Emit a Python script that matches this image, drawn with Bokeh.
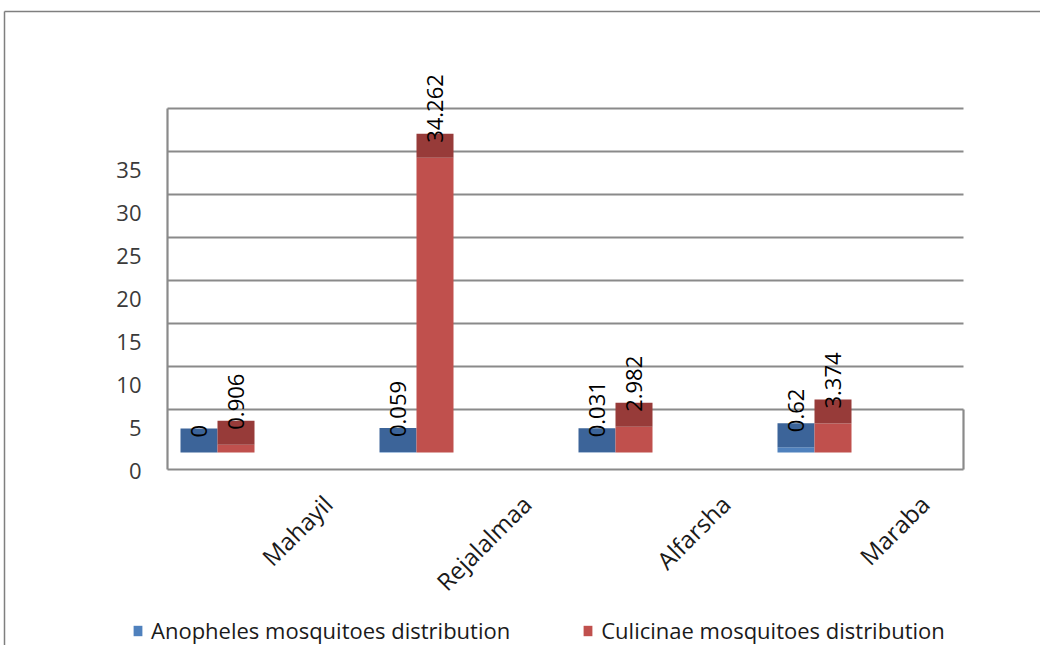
import numpy as np
from bokeh.plotting import figure
from bokeh.models import Range1d, LinearAxis, FixedTicker, Legend, LegendItem
from bokeh.core.properties import value
from bokeh.embed import file_html
from bokeh.resources import INLINE

# ---------------- data ----------------
categories = ["Mahayil", "Rejalalmaa", "Alfarsha", "Maraba"]
anopheles = [0, 0.059, 0.031, 0.62]
culicinae = [0.906, 34.262, 2.982, 3.374]
anopheles_labels = ["0", "0.059", "0.031", "0.62"]
culicinae_labels = ["0.906", "34.262", "2.982", "3.374"]
series_names = ["Anopheles mosquitoes distribution", "Culicinae mosquitoes distribution"]
y_ticks = [0, 5, 10, 15, 20, 25, 30, 35]
grid_values = [5, 10, 15, 20, 25, 30, 35, 40]

# ---------------- layout constants ----------------
W, H = 1040, 645
PX_PER_UNIT = 8.6        # pixels per value unit
BASE_Y = 452             # canvas y of value 0 (bar base)
WALL_X = 167             # canvas x of back-wall left edge
CAT_W = 199              # pixels per category
DEPTH = 24 / PX_PER_UNIT # 3D top-face depth in value units
LABEL_SHIFT = 2.1        # axis labels sit lower (3D front edge)
FLOOR = -17 / PX_PER_UNIT


def v_of(py):
    return (BASE_Y - py) / PX_PER_UNIT


def u_of(px):
    return (px - WALL_X) / CAT_W


y_range = Range1d(v_of(H), v_of(0))
x_range = Range1d(u_of(0), u_of(W))

p = figure(width=W, height=H, x_range=x_range, y_range=y_range,
           output_backend="svg", toolbar_location=None, min_border=0)
p.xaxis.visible = False
p.yaxis.visible = False
p.xgrid.visible = False
p.ygrid.visible = False
p.outline_line_color = None
p.background_fill_color = "white"
p.border_fill_color = "white"

# y axis with labels sitting on the 3D front edge
p.extra_y_ranges = {"lab": Range1d(y_range.start + LABEL_SHIFT, y_range.end + LABEL_SHIFT)}
yax = LinearAxis(y_range_name="lab", ticker=FixedTicker(ticks=y_ticks), fixed_location=0)
yax.axis_line_color = None
yax.major_tick_line_color = None
yax.minor_tick_line_color = None
yax.major_label_standoff = 20
yax.major_label_text_font = "Open Sans"
yax.major_label_text_font_size = "22px"
yax.major_label_text_color = "#3a3a3a"
p.add_layout(yax, "left")

n = len(categories)
idx = np.arange(n)

# outer frame lines
p.segment(x0=[u_of(4), u_of(4)], y0=[v_of(11), v_of(11)], x1=[x_range.end, u_of(4)], y1=[v_of(11), y_range.start],
          line_color="#7f7f7f", line_width=1.5)

# gridlines (back wall)
p.segment(x0=[0] * len(grid_values), y0=grid_values, x1=[n] * len(grid_values), y1=grid_values,
          line_color="#8a8a8a", line_width=2.2)
# wall/floor edges
p.segment(x0=[0, 0, n], y0=[FLOOR, FLOOR, FLOOR], x1=[0, n, n], y1=[grid_values[-1], FLOOR, grid_values[0]],
          line_color="#8a8a8a", line_width=2.2)

bw = 37 / CAT_W
off = 13 / CAT_W
bl = idx + off
bm = bl + bw
br = bm + bw

an = np.array(anopheles)
cu = np.array(culicinae)

r_blue = p.quad(left=bl, right=bm, bottom=0, top=an, fill_color="#4f81bd", line_color=None)
p.quad(left=bl, right=bm, bottom=an, top=an + DEPTH, fill_color="#3c6499", line_color=None)
r_red = p.quad(left=bm, right=br, bottom=0, top=cu, fill_color="#c0504d", line_color=None)
p.quad(left=bm, right=br, bottom=cu, top=cu + DEPTH, fill_color="#973b39", line_color=None)

# data labels
lab_off = DEPTH - 9 / PX_PER_UNIT
p.text(x=(bl + bm) / 2, y=an + lab_off, text=anopheles_labels, angle=np.pi / 2,
       text_align="left", text_baseline="middle", text_font=value("Open Sans"),
       text_font_size="22px", text_color="#000000")
p.text(x=(bm + br) / 2, y=cu + lab_off, text=culicinae_labels, angle=np.pi / 2,
       text_align="left", text_baseline="middle", text_font=value("Open Sans"),
       text_font_size="22px", text_color="#000000")

# category labels
p.text(x=idx + 0.805, y=[v_of(499)] * n, text=categories, angle=np.pi / 4,
       text_align="right", text_baseline="middle", text_font=value("Open Sans"),
       text_font_size="24px", text_color="#1a1a1a")

legend = Legend(items=[LegendItem(label=series_names[0], renderers=[r_blue]),
                       LegendItem(label=series_names[1], renderers=[r_red])],
                orientation="horizontal", location=(132, 0))
legend.glyph_width = 11
legend.glyph_height = 13
legend.label_standoff = 8
legend.spacing = 72
legend.padding = 0
legend.margin = 0
legend.border_line_color = None
legend.background_fill_alpha = 0
legend.label_text_font = "Open Sans"
legend.label_text_font_size = "22px"
legend.label_text_color = "#1a1a1a"
p.add_layout(legend, "center")

open("out.html", "w").write(file_html(p, INLINE))
